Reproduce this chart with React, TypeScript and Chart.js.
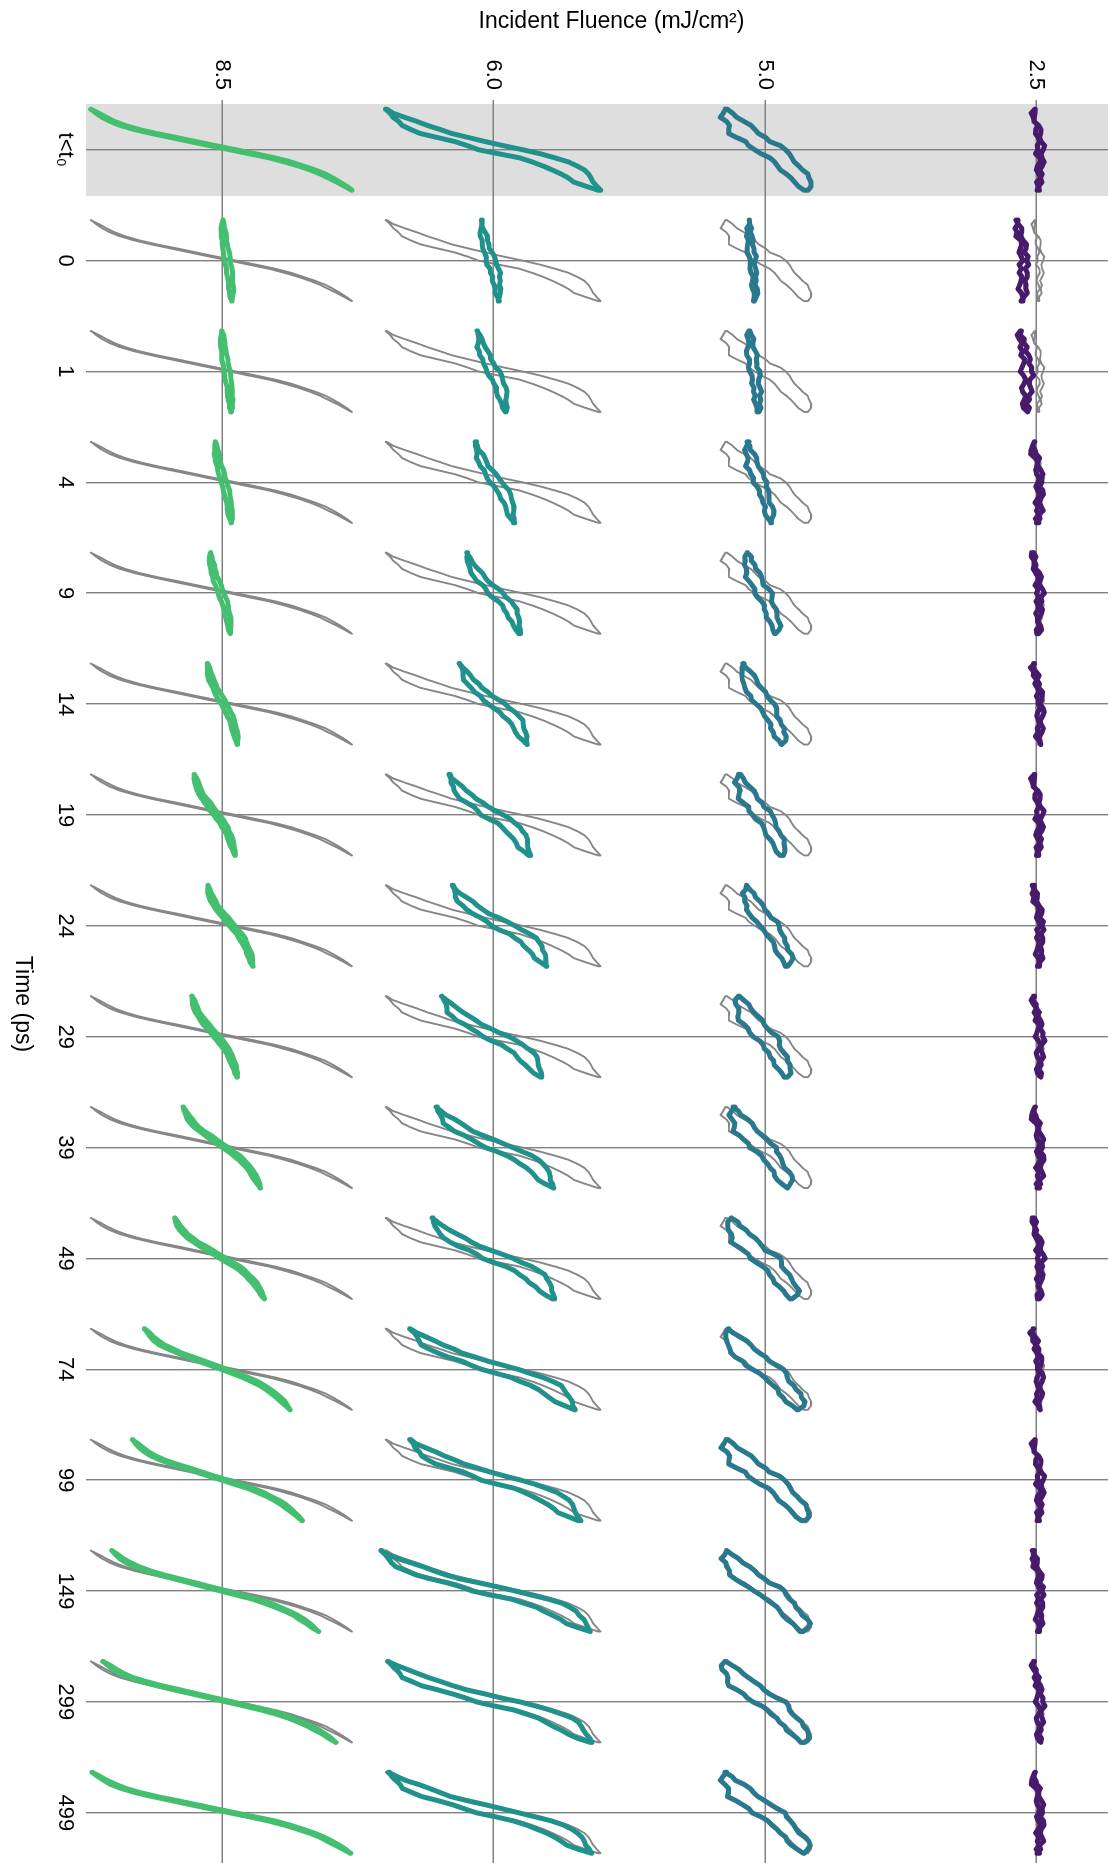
import React, { useEffect, useRef } from "react";
import { Chart, registerables } from "chart.js";

Chart.register(...registerables);

// ---------- categories & labels ----------
const TIME_LABELS = ["t<t\u2080", "0", "1", "4", "9", "14", "19", "24", "29", "39", "49", "74", "99", "149", "299", "499"];
const FLUENCE_LABELS = ["2.5", "5.0", "6.0", "8.5"];
const X_TITLE = "Time (ps)";
const Y_TITLE = "Incident Fluence (mJ/cm\u00b2)";

// ---------- reference loops (t < t0), normalised field / signal ----------
const FIELD = [-1, -0.9, -0.8, -0.7, -0.6, -0.5, -0.4, -0.3, -0.2, -0.1, 0, 0.1, 0.2, 0.3, 0.4, 0.5, 0.6, 0.7, 0.8, 0.9, 1];

const REF_UP_25 = [-0.02, -0.03, -0.03, -0.02, -0.01, 0.0, 0.005, 0.01, 0.01, 0.01, 0.01, 0.01, 0.015, 0.015, 0.01, 0.01, 0.01, 0.01, 0.01, 0.01, 0.02];
const REF_DOWN_25 = [-0.02, -0.015, -0.01, 0.0, 0.01, 0.02, 0.03, 0.035, 0.04, 0.045, 0.045, 0.045, 0.045, 0.045, 0.04, 0.04, 0.035, 0.035, 0.03, 0.03, 0.02];
const REF_UP_50 = [-0.3, -0.32, -0.33, -0.3, -0.28, -0.275, -0.27, -0.22, -0.16, -0.12, -0.08, -0.02, 0.03, 0.07, 0.1, 0.13, 0.16, 0.19, 0.225, 0.26, 0.3];
const REF_DOWN_50 = [-0.3, -0.25, -0.21, -0.16, -0.115, -0.08, -0.04, 0.0, 0.04, 0.11, 0.165, 0.185, 0.2, 0.23, 0.255, 0.285, 0.315, 0.34, 0.36, 0.35, 0.32];
const REF_UP_60 = [-0.82, -0.79, -0.76, -0.73, -0.7, -0.63, -0.55, -0.43, -0.3, -0.2, -0.11, 0.04, 0.19, 0.29, 0.38, 0.45, 0.51, 0.57, 0.62, 0.7, 0.8];
const REF_DOWN_60 = [-0.82, -0.76, -0.68, -0.59, -0.5, -0.41, -0.32, -0.2, -0.06, 0.08, 0.22, 0.35, 0.47, 0.57, 0.645, 0.69, 0.72, 0.745, 0.765, 0.785, 0.81];
const REF_UP_85 = [-1.0, -0.96, -0.915, -0.86, -0.78, -0.67, -0.54, -0.395, -0.245, -0.095, 0.055, 0.205, 0.355, 0.475, 0.58, 0.67, 0.75, 0.81, 0.875, 0.93, 0.99];
const REF_DOWN_85 = [-1.0, -0.94, -0.885, -0.82, -0.74, -0.63, -0.5, -0.345, -0.195, -0.045, 0.105, 0.255, 0.405, 0.525, 0.62, 0.71, 0.79, 0.85, 0.905, 0.95, 0.99];

// ---------- per time step: loop amplitude, opening and shift (relative to reference) ----------
const AMP_25 = [1, 1, 1, 1, 1, 1, 1, 1, 1, 1, 1, 1, 1, 1, 1, 1];
const OPEN_25 = [1, 1.5, 1.8, 1, 1, 1, 1, 1, 1, 1, 1, 1, 1, 1, 1, 1];
const SHIFT_25 = [0, -0.125, -0.1, -0.005, -0.005, 0, -0.005, 0, 0, 0, 0, -0.005, 0, 0, 0, 0];

const AMP_50 = [1, 0.08, 0.11, 0.29, 0.37, 0.48, 0.53, 0.52, 0.59, 0.67, 0.77, 0.87, 0.96, 0.96, 0.97, 0.98];
const OPEN_50 = [1, 0.2, 0.3, 0.4, 0.5, 0.6, 0.65, 0.65, 0.75, 0.8, 0.9, 1, 1, 1, 1, 1];
const SHIFT_50 = [0, -0.1, -0.085, -0.047, -0.029, -0.02, -0.04, 0.011, -0.022, -0.04, -0.031, -0.018, -0.006, -0.01, -0.01, -0.01];

const AMP_60 = [1, 0.085, 0.129, 0.178, 0.252, 0.313, 0.374, 0.446, 0.463, 0.547, 0.575, 0.77, 0.793, 0.988, 0.95, 0.95];
const OPEN_60 = [1, 0.23, 0.3, 0.3, 0.35, 0.4, 0.5, 0.55, 0.6, 0.65, 0.7, 0.85, 0.9, 1, 1, 1];
const SHIFT_60 = [0, -0.025, -0.012, 0.01, 0, 0.003, -0.029, 0.049, -0.01, 0.014, 0, 0, 0.015, -0.052, -0.02, -0.02];

const AMP_85 = [1, 0.035, 0.035, 0.06, 0.077, 0.114, 0.155, 0.173, 0.173, 0.295, 0.345, 0.558, 0.65, 0.794, 0.893, 0.99];
const OPEN_85 = [0.9, 0.9, 0.9, 0.9, 0.9, 0.9, 0.9, 0.9, 0.9, 0.9, 0.9, 0.9, 0.9, 0.9, 0.9, 0.9];
const SHIFT_85 = [0, 0.04, 0.035, 0.01, -0.013, 0.005, -0.055, 0.064, -0.055, 0, -0.018, -0.032, -0.032, -0.05, -0.015, 0];

// measurement jitter along the loop (hand read pattern)
const JITTER = [0.35, -0.5, 0.2, 0.1, 0.9, -0.3, -0.6, 0.15, 0.7, -0.2, 0.05, -0.8, 0.4, 0.6, -0.1, -0.5, 0.3, 0.95, -0.4, 0.1, -0.7, 0.5, 0.2, -0.3, -0.9, 0.25, 0.65, 0.1, -0.55, -0.2, 0.8, 0.3, -0.45, -0.1, 0.6, 0.2, -0.75, 0.4, -0.2, 0.55, -0.6, 0.1];

const REF_UP = [REF_UP_25, REF_UP_50, REF_UP_60, REF_UP_85];
const REF_DOWN = [REF_DOWN_25, REF_DOWN_50, REF_DOWN_60, REF_DOWN_85];
const AMPS = [AMP_25, AMP_50, AMP_60, AMP_85];
const OPENS = [OPEN_25, OPEN_50, OPEN_60, OPEN_85];
const SHIFTS = [SHIFT_25, SHIFT_50, SHIFT_60, SHIFT_85];

// ---------- styling ----------
const COLORS = ["#481a6c", "#2a788e", "#21918c", "#44bf70"];
const JITTER_SIZE = [0.022, 0.014, 0.01, 0.004];
const REF_COLOR = "#868686";
const GRID_COLOR = "#808080";
const BAND_COLOR = "#dedede";
const FONT = '"Liberation Sans", Arial, Helvetica, sans-serif';
const FIELD_SPAN = 0.3653; // x units per unit field
const SIGNAL_SPAN = 0.4825; // y units per unit signal
const BAND_RANGE = [-0.412, 0.417];

function loopPoints(i: number, j: number, amp: number, open: number, shift: number, jit: number, seed: number) {
  const up = REF_UP[j];
  const down = REF_DOWN[j];
  const n = FIELD.length;
  const L = JITTER.length;
  const pts: { x: number; y: number }[] = [];
  for (let k = 0; k < n; k++) {
    const c = (up[k] + down[k]) / 2;
    const d = (down[k] - up[k]) / 2;
    const s = shift + amp * c - open * d + jit * JITTER[(k + seed) % L];
    pts.push({ x: i + FIELD[k] * FIELD_SPAN, y: j - s * SIGNAL_SPAN });
  }
  for (let k = n - 1; k >= 0; k--) {
    const c = (up[k] + down[k]) / 2;
    const d = (down[k] - up[k]) / 2;
    const s = shift + amp * c + open * d + jit * JITTER[(n + k + seed) % L];
    pts.push({ x: i + FIELD[k] * FIELD_SPAN, y: j - s * SIGNAL_SPAN });
  }
  pts.push({ ...pts[0] });
  return pts;
}

const bandPlugin = {
  id: "band",
  beforeDraw(chart: any) {
    const { ctx, chartArea, scales } = chart;
    const x0 = scales.x.getPixelForValue(BAND_RANGE[0]);
    const x1 = scales.x.getPixelForValue(BAND_RANGE[1]);
    ctx.save();
    ctx.fillStyle = BAND_COLOR;
    ctx.fillRect(x0, chartArea.top, x1 - x0, chartArea.bottom - chartArea.top);
    ctx.restore();
  },
};

const titlePlugin = {
  id: "titles",
  afterDraw(chart: any) {
    const { ctx } = chart;
    ctx.save();
    ctx.fillStyle = "#000";
    ctx.font = `23px ${FONT}`;
    ctx.textAlign = "center";
    ctx.textBaseline = "middle";
    ctx.fillText(X_TITLE, 1004, 1088);
    ctx.translate(22, 498.5);
    ctx.rotate(-Math.PI / 2);
    ctx.fillText(Y_TITLE, 0, 0);
    ctx.restore();
  },
};

export default function App() {
  const ref = useRef<HTMLCanvasElement | null>(null);

  useEffect(() => {
    if (!ref.current) return;
    const datasets: any[] = [];
    for (let j = 0; j < FLUENCE_LABELS.length; j++) {
      for (let i = 0; i < TIME_LABELS.length; i++) {
        if (i > 0) {
          datasets.push({
            data: loopPoints(i, j, 1, 1, 0, JITTER_SIZE[j] * 0.8, j * 9),
            borderColor: REF_COLOR,
            borderWidth: 1.9,
            order: 2,
          });
        }
        datasets.push({
          data: loopPoints(i, j, AMPS[j][i], OPENS[j][i], SHIFTS[j][i], JITTER_SIZE[j], i === 0 ? j * 9 : (i * 7 + j * 9) % JITTER.length),
          borderColor: COLORS[j],
          borderWidth: 5,
          order: 1,
        });
      }
    }
    datasets.forEach((d) => {
      d.showLine = true;
      d.pointRadius = 0;
      d.pointHoverRadius = 0;
      d.tension = 0;
      d.fill = false;
      d.borderJoinStyle = "round";
      d.borderCapStyle = "round";
    });

    const tickFont = { family: FONT, size: 22 };
    const chart = new Chart(ref.current, {
      type: "scatter",
      data: { datasets },
      plugins: [bandPlugin, titlePlugin],
      options: {
        animation: false,
        responsive: false,
        devicePixelRatio: 1,
        events: [],
        layout: { padding: { top: 2, right: 0, bottom: 0, left: 0 } },
        plugins: { legend: { display: false }, tooltip: { enabled: false } },
        scales: {
          x: {
            type: "linear",
            position: "bottom",
            min: -0.4483,
            max: 15.453,
            afterBuildTicks: (s: any) => {
              s.ticks = TIME_LABELS.map((_, i) => ({ value: i }));
            },
            afterFit: (s: any) => {
              s.height = 86;
              s.paddingLeft = 0;
              s.paddingRight = 0;
            },
            ticks: {
              autoSkip: false,
              maxRotation: 0,
              minRotation: 0,
              padding: 8,
              color: "#000",
              font: tickFont,
              callback: (_v: any, idx: number) => TIME_LABELS[idx],
            },
            grid: { color: GRID_COLOR, lineWidth: 1.4, drawTicks: false },
            border: { display: false },
          },
          y: {
            type: "linear",
            reverse: true,
            min: -0.2634,
            max: 3.501,
            afterBuildTicks: (s: any) => {
              s.ticks = FLUENCE_LABELS.map((_, i) => ({ value: i }));
            },
            afterFit: (s: any) => {
              s.width = 100;
              s.paddingTop = 0;
              s.paddingBottom = 0;
            },
            ticks: {
              autoSkip: false,
              padding: 10,
              color: "#000",
              font: tickFont,
              callback: (_v: any, idx: number) => FLUENCE_LABELS[idx],
            },
            grid: { color: GRID_COLOR, lineWidth: 1.4, drawTicks: false },
            border: { display: false },
          },
        },
      } as any,
    });
    return () => chart.destroy();
  }, []);

  return (
    <div style={{ position: "absolute", left: 0, top: 0, width: 1110, height: 1863, overflow: "hidden", background: "#fff" }}>
      <div
        style={{
          position: "absolute",
          left: 0,
          top: 0,
          width: 1863,
          height: 1110,
          transformOrigin: "0 0",
          transform: "translate(1110px, 0px) rotate(90deg)",
        }}
      >
        <canvas ref={ref} width={1863} height={1110} style={{ display: "block", width: 1863, height: 1110 }} />
      </div>
    </div>
  );
}
